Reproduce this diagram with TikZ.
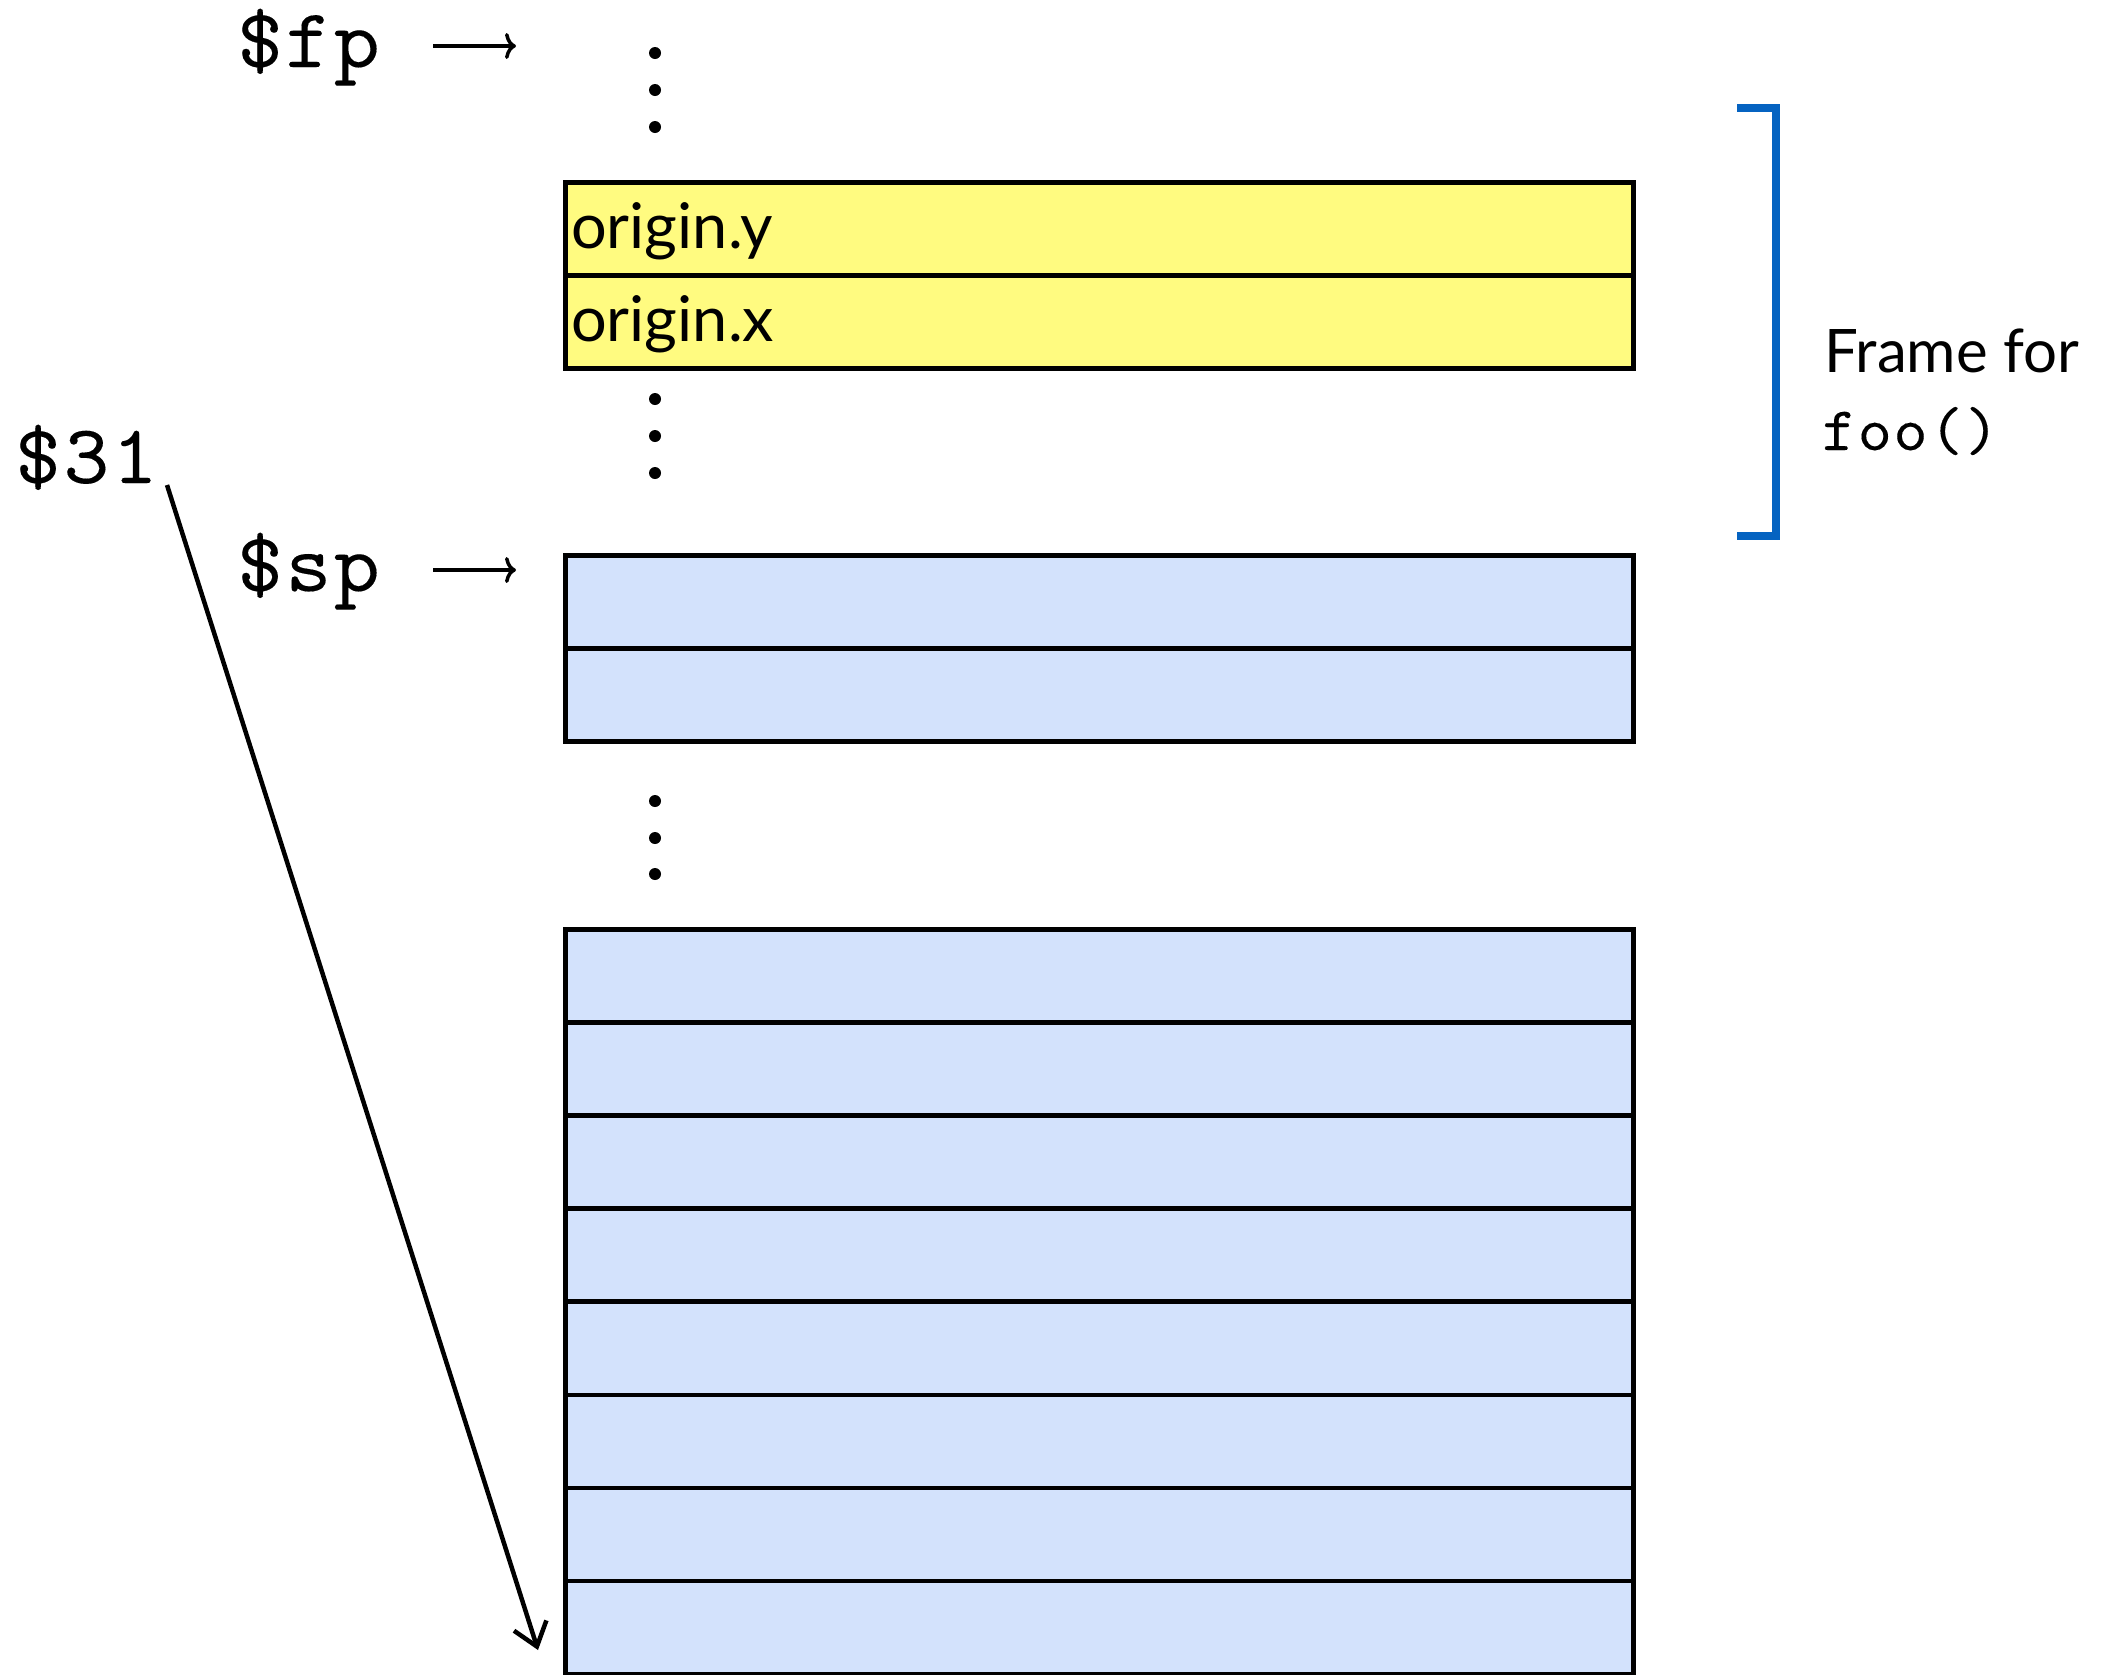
\documentclass[tikz,border=0pt]{standalone}
\usepackage{fontspec}
\setmainfont{Lato}
\newfontfamily\codefont[FakeStretch=1.04, FakeBold=0.15, LetterSpace=3]{lmmono10-regular.otf}
\usetikzlibrary{arrows.meta}

\definecolor{slotyellow}{RGB}{255,251,128}
\definecolor{slotblue}{RGB}{211,226,252}
\definecolor{framebrace}{RGB}{5,99,193}

\tikzset{
  cell/.style={draw=black, line width=4.5pt, rectangle, inner sep=0pt,
               minimum width=1068pt, minimum height=93pt, anchor=north west},
  ycell/.style={cell, fill=slotyellow},
  bcell/.style={cell, fill=slotblue},
  slottext/.style={inner sep=0pt, anchor=base west, font=\fontsize{63}{72}\selectfont},
  regtext/.style={inner sep=0pt, anchor=base west, font=\codefont\fontsize{84}{92}\selectfont},
  notetext/.style={inner sep=0pt, anchor=base west, font=\fontsize{60}{70}\selectfont},
  notecode/.style={inner sep=0pt, anchor=base west, font=\codefont\fontsize{62}{70}\selectfont},
  vdot/.style={circle, fill=black, inner sep=0pt, minimum size=12pt},
  regarrow/.style={line width=3.5pt, -{To[length=11pt,width=26pt]}},
  slantarrow/.style={line width=4.5pt, -{Straight Barb[length=22pt,width=34pt]}},
  brace/.style={draw=framebrace, line width=7.5pt, line join=miter},
}

\begin{document}
\begin{tikzpicture}[x=1pt, y=-1pt]
\useasboundingbox (0,0) rectangle (2108,1674);

% frame of foo(): the two saved fields
\node[ycell] (oy) at (563,180) {};
\node[ycell] (ox) at (563,273) {};
\node[slottext] (toy) at (571,248) {origin.y};
\node[slottext] (tox) at (571,341) {origin.x};

% slots at the stack pointer
\node[bcell] (s1) at (563,553) {};
\node[bcell] (s2) at (563,646) {};

% lower part of the stack
\foreach \i in {0,...,7} {
  \node[bcell] (b\i) at (563,{927+93.125*\i}) {};
}

% elision dots
\foreach \n/\y in {d1/53, d2/90, d3/127, d4/399, d5/436, d6/473, d7/801, d8/838, d9/874} {
  \node[vdot] (\n) at (655,\y) {};
}

% register labels and their pointers
\node[regtext] (fp) at (237,67) {\$fp};
\node[regtext] (sp) at (237,591) {\$sp};
\node[regtext] (r31) at (15,483) {\$31};

\coordinate (fpa) at (433,46);
\coordinate (fpb) at (516,46);
\coordinate (spa) at (433,570);
\coordinate (spb) at (516,570);
\draw[regarrow] (fpa) -- (fpb);
\draw[regarrow] (spa) -- (spb);

\coordinate (ra) at (167,485);
\coordinate (rb) at (538,1650);
\draw[slantarrow] (ra) -- (rb);

% bracket marking the frame
\coordinate (k1) at (1737,108);
\coordinate (k2) at (1776,108);
\coordinate (k3) at (1776,536);
\coordinate (k4) at (1737,536);
\draw[brace] (k1) -- (k2) -- (k3) -- (k4);

\node[notetext] (fr) at (1824,372) {Frame for};
\node[notecode] (foo) at (1822,450) {foo()};
\end{tikzpicture}
\end{document}
